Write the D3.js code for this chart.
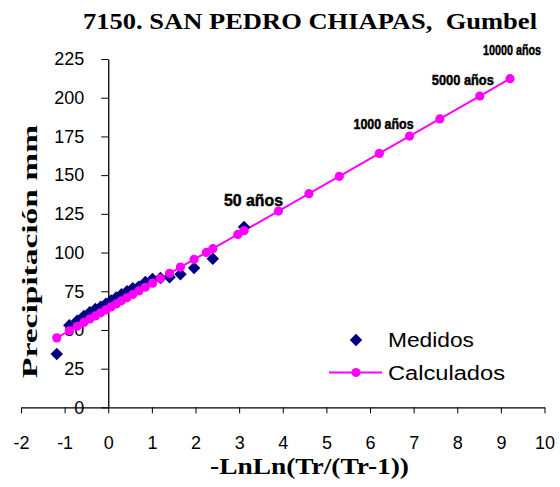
<!DOCTYPE html>
<html>
<head>
<meta charset="utf-8">
<script src="https://cdn.jsdelivr.net/npm/d3@7/dist/d3.min.js"></script>
<style>
  html, body { margin: 0; padding: 0; background: #fff; }
  svg { display: block; }
</style>
</head>
<body>
<svg id="chart" width="560" height="487"></svg>
<script>
// ---- Data ----
const titleText = "7150. SAN PEDRO CHIAPAS,  Gumbel";
const xLabel = "-LnLn(Tr/(Tr-1))";
const yLabel = "Precipitación mm";

// Medidos: reduced variate and measured precipitation
const medidosX = [3.113, 2.397, 1.968, 1.655, 1.406, 1.196, 1.014, 0.850, 0.700, 0.561, 0.430,
                  0.304, 0.183, 0.064, -0.055, -0.174, -0.295, -0.423, -0.559, -0.712, -0.893, -1.18];
const medidosY = [116.5, 96, 90, 86, 84, 83.5, 83, 81, 78, 77, 75,
                  73, 71, 69, 67, 65, 63.5, 61.5, 59, 56, 53, 34.5];

// Calculados: Gumbel fitted values
const calcX = [-1.18, -0.893, -0.712, -0.559, -0.423, -0.295, -0.174, -0.055, 0.064, 0.183, 0.304,
               0.430, 0.561, 0.700, 0.850, 1.014, 1.196, 1.406, 1.655, 1.968, 2.250, 2.397,
               2.970, 3.113, 3.902, 4.600, 5.296, 6.213, 6.907, 7.600, 8.517, 9.210];
const calcY = [44.9, 49.5, 52.4, 54.9, 57.1, 59.1, 61.1, 63.0, 64.9, 66.8, 68.8,
               70.8, 72.9, 75.2, 77.6, 80.2, 83.2, 86.6, 90.6, 95.6, 100.1, 102.5,
               111.7, 114.1, 126.8, 138.0, 149.2, 164.0, 175.2, 186.3, 201.1, 212.3];

// Return-period labels attached to calculated points (index into calc arrays)
const periodLabels = ["50 años", "1000 años", "5000 años", "10000 años"];
const periodIndex = [24, 28, 30, 31];

const xTicks = [-2, -1, 0, 1, 2, 3, 4, 5, 6, 7, 8, 9, 10];
const yTicks = [0, 25, 50, 75, 100, 125, 150, 175, 200, 225];
const legendLabels = ["Medidos", "Calculados"];

// ---- Layout ----
const svg = d3.select("#chart");
const x = d3.scaleLinear().domain([-2, 10]).range([21, 544.5]);
const y = d3.scaleLinear().domain([0, 225]).range([407.4, 59]);

const navy = "#000080", magenta = "#FF00FF";
const axisFont = "Arial, 'Liberation Sans', sans-serif";
const serif = "'Liberation Serif', 'Times New Roman', serif";

// Title
svg.append("text")
  .attr("x", 310).attr("y", 29)
  .attr("text-anchor", "middle")
  .attr("font-family", serif).attr("font-weight", "bold")
  .attr("font-size", 24)
  .attr("textLength", 454).attr("lengthAdjust", "spacingAndGlyphs")
  .style("white-space", "pre")
  .text(titleText);

// X axis
const xAxis = svg.append("g")
  .attr("transform", `translate(0,${y(0)})`)
  .call(d3.axisBottom(x).tickValues(xTicks).tickFormat(d3.format("d")).tickSize(6).tickSizeOuter(0));
xAxis.select(".domain").attr("stroke", "#000").attr("stroke-width", 1.3);
xAxis.selectAll(".tick line").attr("stroke", "#000");
xAxis.selectAll("text")
  .attr("font-family", axisFont).attr("font-size", 18).attr("fill", "#000")
  .attr("y", 42).attr("dy", 0)
  .text(d => d < 0 ? "-" + Math.abs(d) : d);

// Y axis at x = 0
const yAxis = svg.append("g")
  .attr("transform", `translate(${x(0)},0)`)
  .call(d3.axisLeft(y).tickValues(yTicks).tickSize(7).tickPadding(17).tickSizeOuter(0));
yAxis.select(".domain").attr("stroke", "#000").attr("stroke-width", 1.3);
yAxis.selectAll(".tick line").attr("stroke", "#000");
yAxis.selectAll("text")
  .attr("font-family", axisFont).attr("font-size", 18).attr("fill", "#000");

// Axis titles
svg.append("text")
  .attr("x", 309.5).attr("y", 474)
  .attr("text-anchor", "middle")
  .attr("font-family", serif).attr("font-weight", "bold").attr("font-size", 24)
  .attr("textLength", 199).attr("lengthAdjust", "spacingAndGlyphs")
  .text(xLabel);

svg.append("text")
  .attr("transform", `translate(37,251.5) rotate(-90)`)
  .attr("text-anchor", "middle")
  .attr("font-family", serif).attr("font-weight", "bold").attr("font-size", 22)
  .attr("textLength", 253).attr("lengthAdjust", "spacingAndGlyphs")
  .text(yLabel);

// Calculados line
const calc = calcX.map((v, i) => ({ x: v, y: calcY[i] }));
svg.append("path")
  .datum(calc)
  .attr("fill", "none").attr("stroke", magenta).attr("stroke-width", 2)
  .attr("d", d3.line().x(d => x(d.x)).y(d => y(d.y)));

// Medidos diamonds
const med = medidosX.map((v, i) => ({ x: v, y: medidosY[i] }));
const diamondPath = d3.symbol().type(d3.symbolSquare).size(78)();
svg.append("g").selectAll("path")
  .data(med).join("path")
  .attr("transform", d => `translate(${x(d.x)},${y(d.y)}) rotate(45)`)
  .attr("d", diamondPath)
  .attr("fill", navy);

// Calculados points
svg.append("g").selectAll("circle")
  .data(calc).join("circle")
  .attr("cx", d => x(d.x)).attr("cy", d => y(d.y)).attr("r", 4.6)
  .attr("fill", magenta);

// Return-period labels
const labelStyle = [
  { dx: -25, dy: -5, size: 17, len: 59 },
  { dx: -26, dy: -7, size: 15, len: 60 },
  { dx: -17, dy: -11, size: 15, len: 62 },
  { dx: 2, dy: -24, size: 15, len: 58 }
];
periodLabels.forEach((t, i) => {
  const p = calc[periodIndex[i]], s = labelStyle[i];
  svg.append("text")
    .attr("x", x(p.x) + s.dx).attr("y", y(p.y) + s.dy)
    .attr("text-anchor", "middle")
    .attr("font-family", axisFont).attr("font-weight", "bold")
    .attr("font-size", s.size)
    .attr("textLength", s.len).attr("lengthAdjust", "spacingAndGlyphs")
    .attr("stroke", "#000").attr("stroke-width", 0.5)
    .text(t);
});

// Legend
const lg = svg.append("g");
lg.append("path")
  .attr("transform", "translate(356,340) rotate(45)")
  .attr("d", diamondPath)
  .attr("fill", navy);
lg.append("text").attr("x", 388).attr("y", 347)
  .attr("font-family", axisFont).attr("font-size", 20)
  .attr("textLength", 86).attr("lengthAdjust", "spacingAndGlyphs")
  .text(legendLabels[0]);
lg.append("line").attr("x1", 329).attr("x2", 382).attr("y1", 372.5).attr("y2", 372.5)
  .attr("stroke", magenta).attr("stroke-width", 2);
lg.append("circle").attr("cx", 356).attr("cy", 372.5).attr("r", 4.6).attr("fill", magenta);
lg.append("text").attr("x", 388).attr("y", 379.5)
  .attr("font-family", axisFont).attr("font-size", 20)
  .attr("textLength", 117).attr("lengthAdjust", "spacingAndGlyphs")
  .text(legendLabels[1]);
</script>
</body>
</html>
